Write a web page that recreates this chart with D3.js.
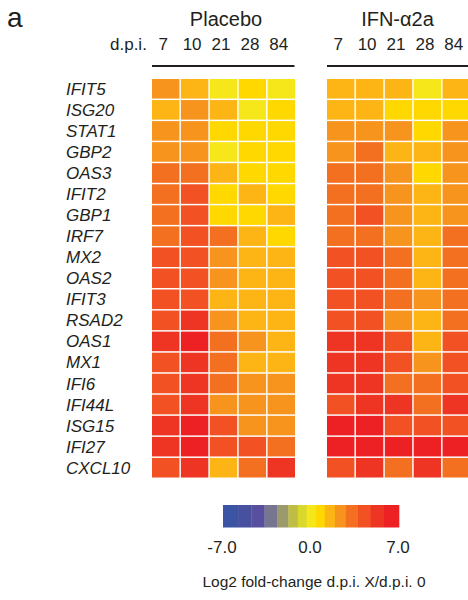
<!DOCTYPE html>
<html>
<head>
<meta charset="utf-8">
<script src="https://cdn.jsdelivr.net/npm/d3@7"></script>
<style>
  body { margin: 0; background: #fff; }
  text { font-family: "Liberation Sans", Arial, Helvetica, sans-serif; fill: #231f20; }
</style>
</head>
<body>
<div id="chart"></div>
<script>
const genes = ["IFIT5","ISG20","STAT1","GBP2","OAS3","IFIT2","GBP1","IRF7","MX2","OAS2",
  "IFIT3","RSAD2","OAS1","MX1","IFI6","IFI44L","ISG15","IFI27","CXCL10"];
const days = ["7","10","21","28","84"];

// log2 fold-change, one row per gene, columns = days
const placebo = [
  [2.3,1.5,0,0.7,0],
  [1.5,2.3,1.5,0,0.7],
  [2.3,2.3,0.7,0.6,0.7],
  [2.3,2.3,0,0.7,0.7],
  [3.2,3.2,1.5,0.7,0.7],
  [3.2,4.2,0.7,1.5,0.7],
  [3.2,4.2,0.7,0.7,1.5],
  [3.2,4.2,3.2,1.5,1.0],
  [4.2,4.2,2.3,1.5,1.5],
  [4.2,4.2,2.3,1.5,1.5],
  [4.2,4.2,1.5,1.5,1.5],
  [4.2,5.3,2.3,1.5,1.5],
  [5.3,6.3,3.2,2.3,1.5],
  [4.2,5.3,3.2,1.5,1.5],
  [4.2,5.3,3.2,2.3,2.3],
  [4.2,5.3,2.3,2.3,2.3],
  [5.3,6.3,4.2,2.3,2.3],
  [5.3,6.3,4.2,4.2,3.2],
  [4.2,5.3,1.5,3.2,5.3]
];
const ifn = [
  [1.5,1.5,1.5,0,1.5],
  [1.5,1.5,0.7,0.7,0.7],
  [2.3,2.3,2.3,0.7,2.3],
  [2.3,3.2,1.5,1.5,2.3],
  [3.2,3.2,2.3,0.7,2.3],
  [3.2,3.2,2.3,1.5,2.3],
  [3.2,4.2,2.3,1.5,2.3],
  [3.2,3.2,2.3,1.5,3.2],
  [4.2,4.2,3.2,1.5,3.2],
  [4.2,4.2,3.2,1.5,3.2],
  [4.2,4.2,3.2,2.3,3.2],
  [4.2,4.2,2.3,1.5,3.2],
  [5.3,5.3,4.2,1.5,4.2],
  [5.3,5.3,4.2,2.3,4.2],
  [5.3,5.3,3.2,3.2,4.2],
  [4.2,5.3,5.3,3.2,5.3],
  [6.3,6.3,4.2,4.2,4.2],
  [6.3,6.3,6.3,6.3,6.3],
  [4.2,5.3,3.2,5.3,3.2]
];

const breaks = [-5.8,-4.75,-3.7,-2.7,-1.8,-1.05,-0.35,0.35,1.1,1.9,2.75,3.7,4.75,5.8];
const palette = ["#3b54a4","#4751a0","#584f9e","#777590","#9b9a6c","#c0bd44","#d9d82c",
  "#f5e71a","#ffd800","#fdb515","#f7941d","#f37021","#f15123","#ee3524","#ed2024"];
const legendTicks = [-7, 0, 7];

const width = 468, height = 600;
const svg = d3.select("#chart").append("svg")
  .attr("width", width).attr("height", height);

const color = d3.scaleThreshold().domain(breaks).range(palette);

const y = d3.scaleBand().domain(genes).range([79, 477.5]).paddingInner(0.07);

const panels = [
  {title: "Placebo", values: placebo, x0: 152, x1: 295, tx: 226},
  {title: "IFN-\u03b12a", values: ifn, x0: 327, x1: 470, tx: 397.5}
];

panels.forEach(p => {
  const x = d3.scaleBand().domain(days).range([p.x0, p.x1]).paddingInner(0.05);
  const g = svg.append("g");

  const cells = [];
  p.values.forEach((row, i) => row.forEach((v, j) => cells.push({gene: genes[i], day: days[j], v})));

  g.selectAll("rect").data(cells).join("rect")
    .attr("x", d => x(d.day))
    .attr("y", d => y(d.gene))
    .attr("width", x.bandwidth())
    .attr("height", y.bandwidth())
    .attr("fill", d => color(d.v));

  g.selectAll("text.day").data(days).join("text")
    .attr("class", "day")
    .attr("x", d => x(d) + x.bandwidth() / 2 - 2.5)
    .attr("y", 50)
    .attr("text-anchor", "middle")
    .attr("font-size", 17)
    .text(d => d);

  g.append("line")
    .attr("x1", p.x0).attr("x2", p.x1 - 0.5)
    .attr("y1", 66).attr("y2", 66)
    .attr("stroke", "#231f20").attr("stroke-width", 2);

  g.append("text")
    .attr("x", p.tx).attr("y", 26)
    .attr("text-anchor", "middle")
    .attr("font-size", 20)
    .text(p.title);
});

svg.append("text").attr("x", 7).attr("y", 27).attr("font-size", 28).text("a");
svg.append("text").attr("x", 110).attr("y", 50).attr("font-size", 17).text("d.p.i.");

svg.selectAll("text.gene").data(genes).join("text")
  .attr("class", "gene")
  .attr("x", 66)
  .attr("y", d => y(d) + y.bandwidth() / 2 + 6)
  .attr("font-size", 17)
  .attr("font-style", "italic")
  .text(d => d);

// colour key
const lx = d3.scaleLinear().domain([-7, 7]).range([223, 399]);
const edges = [-7, ...breaks, 7];
svg.append("g").selectAll("rect").data(palette).join("rect")
  .attr("x", (d, i) => lx(edges[i]))
  .attr("y", 505)
  .attr("width", (d, i) => lx(edges[i + 1]) - lx(edges[i]) + 0.3)
  .attr("height", 22.5)
  .attr("fill", d => d);

svg.selectAll("text.lt").data(legendTicks).join("text")
  .attr("class", "lt")
  .attr("x", d => lx(d) - 1)
  .attr("y", 553)
  .attr("text-anchor", "middle")
  .attr("font-size", 17)
  .text(d => d.toFixed(1));

svg.append("text")
  .attr("x", 314).attr("y", 587)
  .attr("text-anchor", "middle")
  .attr("font-size", 15.5)
  .text("Log2 fold-change d.p.i. X/d.p.i. 0");
</script>
</body>
</html>
